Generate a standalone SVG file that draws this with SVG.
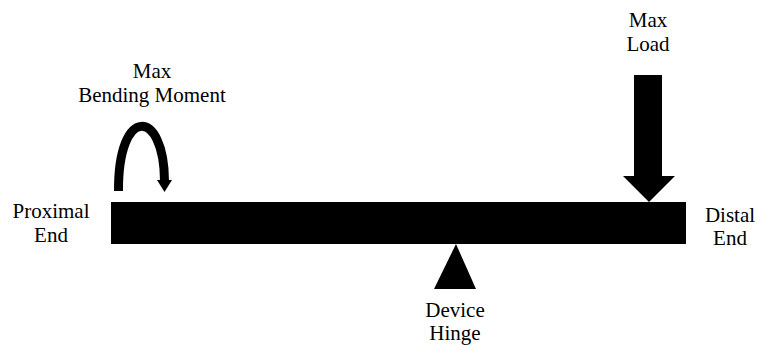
<svg xmlns="http://www.w3.org/2000/svg" width="757" height="345" viewBox="0 0 757 345">
<style>
text{font-family:"Liberation Serif",Tinos,"Times New Roman",Times,"DejaVu Serif","Noto Serif",FreeSerif,serif;font-size:21px;fill:#000;text-anchor:middle}
.solid{fill:#000;stroke:none}
</style>
<rect width="757" height="345" fill="#fff"/>
<g id="beam"><rect class="solid" x="111" y="202" width="575" height="42"/></g>
<g id="proximal-label"><text x="51" y="218">Proximal</text><text x="51" y="242">End</text></g>
<g id="distal-label"><text x="730" y="222">Distal</text><text x="730" y="245">End</text></g>
<g id="hinge"><polygon class="solid" points="456,244 476,289 434,289"/><text x="455" y="317">Device</text><text x="455" y="340">Hinge</text></g>
<g id="max-load"><text x="648" y="27">Max</text><text x="648" y="51">Load</text></g>
<g id="max-moment"><text x="152" y="78">Max</text><text x="152" y="102">Bending Moment</text></g>
<g id="connectors">
<polygon class="solid" points="634,75 662,75 662,176 675,176 649,202 623,176 634,176"/>
<path d="M118.5,191 C118,105 164,108 164.5,181" fill="none" stroke="#000" stroke-width="9"/>
<polygon class="solid" points="157,180 172,180 164.5,192"/>
</g>
</svg>
